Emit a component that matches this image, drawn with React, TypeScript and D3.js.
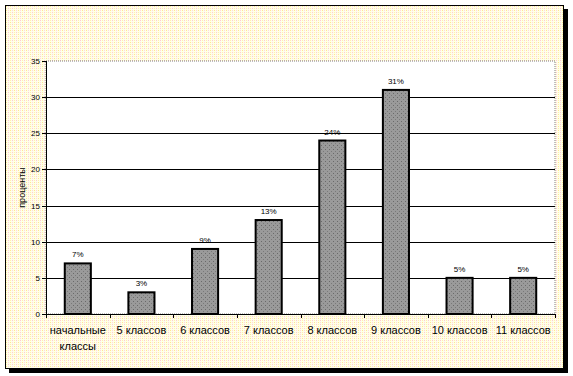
import React from "react";
import * as d3 from "d3";

const categories: string[][] = [
  ["начальные", "классы"],
  ["5 классов"],
  ["6 классов"],
  ["7 классов"],
  ["8 классов"],
  ["9 классов"],
  ["10 классов"],
  ["11 классов"],
];
const values = [7, 3, 9, 13, 24, 31, 5, 5];
const valueLabels = ["7%", "3%", "9%", "13%", "24%", "31%", "5%", "5%"];
const yTicks = [0, 5, 10, 15, 20, 25, 30, 35];
const yTitle = "проценты";

export default function App() {
  const W = 573, H = 376;
  const left = 46, right = 555, top = 61, bottom = 314;
  const x = d3.scaleBand<number>().domain(d3.range(values.length)).range([left, right]).paddingInner(0).paddingOuter(0);
  const y = d3.scaleLinear().domain([0, 35]).range([bottom, top]);
  const bw = x.bandwidth() * 0.41;
  const font = "Arial, 'Liberation Sans', sans-serif";

  return (
    <svg width={W} height={H} style={{ position: "absolute", left: 0, top: 0, background: "#fff" }}>
      <defs>
        <pattern id="bg" width="4" height="4" patternUnits="userSpaceOnUse">
          <rect width="4" height="4" fill="#FFFFE8" />
          <rect x="0" y="0" width="1" height="1" fill="#FFC8D8" />
          <rect x="2" y="2" width="1" height="1" fill="#FFE890" />
          <rect x="2" y="0" width="1" height="1" fill="#FFF0B0" />
          <rect x="0" y="2" width="1" height="1" fill="#FFD8E0" />
        </pattern>
        <pattern id="bar" width="4" height="4" patternUnits="userSpaceOnUse">
          <rect width="4" height="4" fill="#9A9A9A" />
          <rect x="1" y="1" width="1" height="1" fill="#6A6A6A" />
          <rect x="3" y="3" width="1" height="1" fill="#7A7A7A" />
        </pattern>
      </defs>
      {/* shadow */}
      <rect x={9} y={9} width={559} height={364} fill="#000" />
      {/* chart area */}
      <rect x={5.5} y={5.5} width={558} height={363} fill="url(#bg)" stroke="#000" strokeWidth={1} />
      {/* plot area */}
      <rect x={left} y={top} width={right - left} height={bottom - top} fill="#fff" stroke="#808080" strokeWidth={1} strokeDasharray="1,1" />
      {/* gridlines */}
      {yTicks.filter(t => t > 0 && t < 35).map(t => (
        <line key={t} x1={left} x2={right} y1={Math.round(y(t)) + 0.5} y2={Math.round(y(t)) + 0.5} stroke="#000" strokeWidth={1} />
      ))}
      {/* y axis */}
      <line x1={left + 0.5} x2={left + 0.5} y1={top} y2={bottom} stroke="#000" />
      {yTicks.map(t => (
        <g key={t}>
          <line x1={left - 4} x2={left} y1={Math.round(y(t)) + 0.5} y2={Math.round(y(t)) + 0.5} stroke="#000" />
          <text x={left - 6} y={y(t) + 3} fontSize={8} fontFamily={font} textAnchor="end" fill="#000">{t}</text>
        </g>
      ))}
      <text transform={`translate(25,${(top + bottom) / 2}) rotate(-90)`} fontSize={9} fontFamily={font} textAnchor="middle" fill="#000">{yTitle}</text>
      {/* bars */}
      {values.map((v, i) => {
        const cx = (x(i) as number) + x.bandwidth() / 2;
        return (
          <g key={i}>
            <rect x={cx - bw / 2} y={y(v)} width={bw} height={bottom - y(v)} fill="url(#bar)" stroke="#000" strokeWidth={2} />
            <text x={cx} y={y(v) - 6} fontSize={8} fontFamily={font} textAnchor="middle" fill="#000">{valueLabels[i]}</text>
          </g>
        );
      })}
      {/* x axis */}
      <line x1={left} x2={right} y1={bottom + 0.5} y2={bottom + 0.5} stroke="#000" />
      {d3.range(values.length + 1).map(i => {
        const xx = Math.round(left + i * x.bandwidth()) + 0.5;
        return <line key={i} x1={xx} x2={xx} y1={bottom} y2={bottom + 4} stroke="#000" />;
      })}
      {categories.map((c, i) => {
        const cx = (x(i) as number) + x.bandwidth() / 2;
        return (
          <text key={i} x={cx} y={334} fontSize={11} fontFamily={font} textAnchor="middle" fill="#000">
            {c.map((line, j) => (
              <tspan key={j} x={cx} dy={j === 0 ? 0 : 16}>{line}</tspan>
            ))}
          </text>
        );
      })}
    </svg>
  );
}
